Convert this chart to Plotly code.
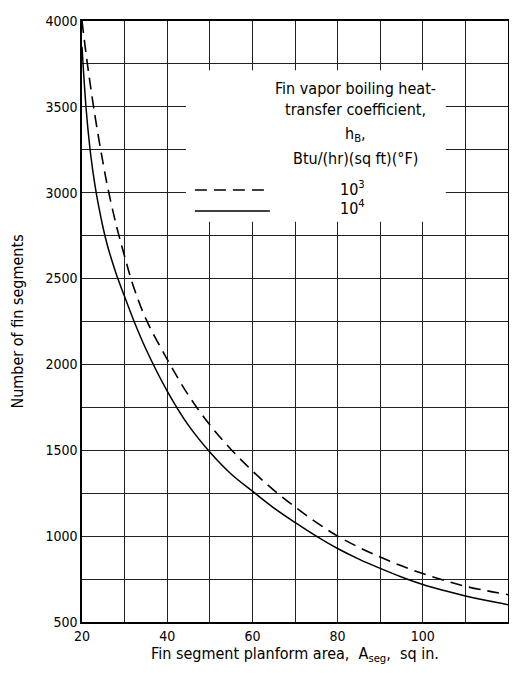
import plotly.graph_objects as go

# Fin segment planform area, sq in.
area_x = [20, 21, 22, 23, 24, 25, 26, 28, 30, 32, 35, 40, 45, 50, 55, 60, 65, 70,
          75, 80, 85, 90, 95, 100, 105, 110, 115, 120]

# h_B = 10^3 Btu/(hr)(sq ft)(°F)  (dashed)
segments_1e3 = [4000, 3800, 3620, 3455, 3305, 3165, 3035, 2815, 2630, 2460, 2265, 2030,
                1820, 1648, 1505, 1380, 1268, 1170, 1080, 1000, 935, 878, 827, 782,
                743, 708, 682, 659]

# h_B = 10^4 Btu/(hr)(sq ft)(°F)  (solid)
segments_1e4 = [3850, 3480, 3230, 3050, 2910, 2790, 2690, 2530, 2395, 2265, 2090, 1845,
                1645, 1490, 1362, 1262, 1165, 1080, 1000, 928, 866, 812, 762, 718,
                683, 652, 625, 601]

x_ticks = [20, 40, 60, 80, 100, 120]
y_ticks = [500, 1000, 1500, 2000, 2500, 3000, 3500, 4000]

legend_title_lines = ["Fin vapor boiling heat-", "transfer coefficient,",
                      "h<sub>B</sub>,", "Btu/(hr)(sq ft)(°F)"]
legend_labels = ["10<sup>3</sup>", "10<sup>4</sup>"]

FONT = "DejaVu Sans Condensed, Liberation Sans Narrow, Arial Narrow, sans-serif"

fig = go.Figure()
fig.add_trace(go.Scatter(x=area_x, y=segments_1e3, mode="lines", line_shape="spline",
                         line=dict(color="black", width=1.6, dash="12px,7px"),
                         showlegend=False, hoverinfo="skip"))
fig.add_trace(go.Scatter(x=area_x, y=segments_1e4, mode="lines", line_shape="spline",
                         line=dict(color="black", width=1.5),
                         showlegend=False, hoverinfo="skip"))

grid_col = "#222222"
fig.update_xaxes(range=[20, 120], tickvals=x_ticks, showgrid=True, gridcolor=grid_col,
                 gridwidth=1, minor=dict(dtick=10, tick0=20, showgrid=True,
                                         gridcolor=grid_col, gridwidth=1),
                 showline=True, linecolor="black", linewidth=1.5, mirror=True,
                 ticks="", zeroline=False, automargin=False,
                 title=dict(text="Fin segment planform area,&nbsp; A<sub>seg</sub>,&nbsp; sq in.",
                            font=dict(size=16, family=FONT, color="black"), standoff=0),
                 tickfont=dict(size=14, family=FONT, color="black"))
fig.update_yaxes(range=[500, 4000], tickvals=y_ticks, showgrid=True, gridcolor=grid_col,
                 gridwidth=1, minor=dict(dtick=250, tick0=500, showgrid=True,
                                         gridcolor=grid_col, gridwidth=1),
                 showline=True, linecolor="black", linewidth=1.5, mirror=True,
                 ticks="", zeroline=False, automargin=False,
                 title=dict(text="Number of fin segments",
                            font=dict(size=16, family=FONT, color="black"), standoff=18),
                 tickfont=dict(size=14, family=FONT, color="black"))

shapes = [
    dict(type="rect", xref="paper", yref="paper", x0=0.244, x1=0.854, y0=0.666, y1=0.918,
         fillcolor="white", line=dict(width=0), layer="above"),
    dict(type="line", xref="paper", yref="paper", x0=0.265, x1=0.441, y0=0.7188, y1=0.7188,
         line=dict(color="black", width=1.4, dash="12px,7px"), layer="above"),
    dict(type="line", xref="paper", yref="paper", x0=0.265, x1=0.441, y0=0.6839, y1=0.6839,
         line=dict(color="black", width=1.4), layer="above"),
]

annotations = []
title_y = [0.8885, 0.852, 0.811, 0.772]
for txt, yy in zip(legend_title_lines, title_y):
    annotations.append(dict(text=txt, xref="paper", yref="paper", x=0.643, y=yy,
                            showarrow=False, xanchor="center", yanchor="middle",
                            font=dict(size=16, family=FONT, color="black")))
for txt, yy in zip(legend_labels, [0.722, 0.689]):
    annotations.append(dict(text=txt, xref="paper", yref="paper", x=0.634, y=yy,
                            showarrow=False, xanchor="center", yanchor="middle",
                            font=dict(size=16, family=FONT, color="black")))

# page body has an 8px default margin; size/margins compensate so the plot area
# lands at the same pixels as the reference
fig.update_layout(width=509, height=665, margin=dict(l=74, r=9, t=13, b=51),
                  paper_bgcolor="white", plot_bgcolor="white",
                  shapes=shapes, annotations=annotations,
                  font=dict(family=FONT, color="black"))

fig.write_html("out.html")
